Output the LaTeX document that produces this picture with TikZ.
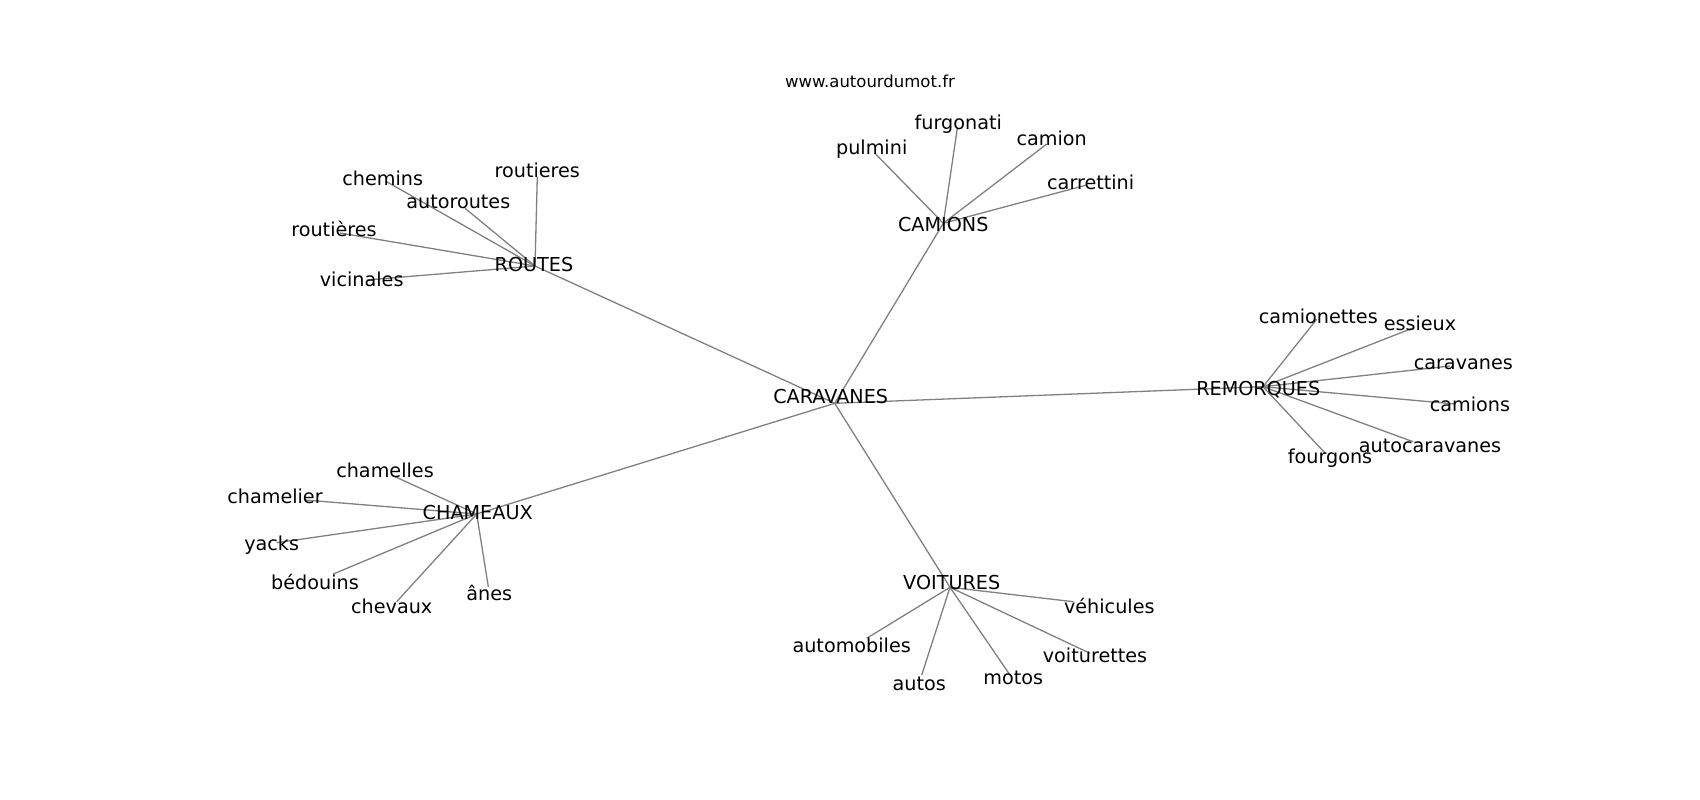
\documentclass[tikz,border=0pt]{standalone}
\usepackage{fontspec}
\setmainfont{DejaVu Sans}
\begin{document}
\begin{tikzpicture}[x=1pt,y=-1pt,
  lbl/.style={inner sep=0pt, anchor=base, font=\fontsize{19.2}{21}\selectfont, text=black, yshift=-6.3pt},
  web/.style={inner sep=0pt, anchor=base, font=\fontsize{16.5}{18}\selectfont, text=black, yshift=-5.2pt},
  edge/.style={draw=gray, line width=1.3pt}]
\useasboundingbox (0,0) rectangle (1700,800);
% line end points
\coordinate (pCARAVANES) at (834.7,403.3);
\coordinate (pROUTES) at (535,266);
\coordinate (pCAMIONS) at (943.3,223.3);
\coordinate (pREMORQUES) at (1263,386.7);
\coordinate (pCHAMEAUX) at (476.7,514);
\coordinate (pVOITURES) at (950,587.3);
\coordinate (pchemins) at (386.7,181.7);
\coordinate (pautoroutes) at (465,208.3);
\coordinate (proutieres) at (537.3,176.7);
\coordinate (proutieresg) at (340,233);
\coordinate (pvicinales) at (366.7,280);
\coordinate (pfurgonati) at (957.3,128.3);
\coordinate (ppulmini) at (875,153.3);
\coordinate (pcamion) at (1046.7,144);
\coordinate (pcarrettini) at (1086.7,185);
\coordinate (pcamionettes) at (1316.7,319.3);
\coordinate (pessieux) at (1413,328);
\coordinate (pcaravanes) at (1450,366);
\coordinate (pcamions) at (1455,404);
\coordinate (pautocaravanes) at (1413,441.7);
\coordinate (pfourgons) at (1325,453);
\coordinate (pchamelles) at (395,476.7);
\coordinate (pchamelier) at (305,500);
\coordinate (pyacks) at (276.7,542.7);
\coordinate (pbedouins) at (333.3,574);
\coordinate (pchevaux) at (396.7,601.7);
\coordinate (panes) at (488.3,586.7);
\coordinate (pvehicules) at (1073.3,601.7);
\coordinate (pautomobiles) at (866.7,638.3);
\coordinate (pautos) at (921.7,675);
\coordinate (pmotos) at (1010,675);
\coordinate (pvoiturettes) at (1090,653.3);
% edges
\foreach \a/\b in {CARAVANES/ROUTES, CARAVANES/CAMIONS, CARAVANES/REMORQUES, CARAVANES/CHAMEAUX, CARAVANES/VOITURES,
  ROUTES/chemins, ROUTES/autoroutes, ROUTES/routieres, ROUTES/routieresg, ROUTES/vicinales,
  CAMIONS/furgonati, CAMIONS/pulmini, CAMIONS/camion, CAMIONS/carrettini,
  REMORQUES/camionettes, REMORQUES/essieux, REMORQUES/caravanes, REMORQUES/camions, REMORQUES/autocaravanes, REMORQUES/fourgons,
  CHAMEAUX/chamelles, CHAMEAUX/chamelier, CHAMEAUX/yacks, CHAMEAUX/bedouins, CHAMEAUX/chevaux, CHAMEAUX/anes,
  VOITURES/vehicules, VOITURES/automobiles, VOITURES/autos, VOITURES/motos, VOITURES/voiturettes}
  \draw[edge] (p\a) -- (p\b);
% labels
\node[web] (www) at (870,82.7) {www.autourdumot.fr};
\node[lbl] (CARAVANES) at (830.7,397.3) {CARAVANES};
\node[lbl] (ROUTES) at (534,265) {ROUTES};
\node[lbl] (chemins) at (382.7,179.3) {chemins};
\node[lbl] (autoroutes) at (458.3,201.7) {autoroutes};
\node[lbl] (routieres) at (537.3,170.7) {routieres};
\node[lbl] (routieresg) at (334,230) {routières};
\node[lbl] (vicinales) at (361.7,280) {vicinales};
\node[lbl] (CAMIONS) at (943.3,225) {CAMIONS};
\node[lbl] (furgonati) at (958.3,122.7) {furgonati};
\node[lbl] (pulmini) at (871.7,148.3) {pulmini};
\node[lbl] (camion) at (1051.7,139) {camion};
\node[lbl] (carrettini) at (1090.7,183.3) {carrettini};
\node[lbl] (REMORQUES) at (1258.3,389.3) {REMORQUES};
\node[lbl] (camionettes) at (1318.3,316.7) {camionettes};
\node[lbl] (essieux) at (1420,324) {essieux};
\node[lbl] (caravanes) at (1463.3,362.7) {caravanes};
\node[lbl] (camions) at (1470,405) {camions};
\node[lbl] (autocaravanes) at (1430,446) {autocaravanes};
\node[lbl] (fourgons) at (1330,456.7) {fourgons};
\node[lbl] (CHAMEAUX) at (477.7,513.3) {CHAMEAUX};
\node[lbl] (chamelles) at (385,470.7) {chamelles};
\node[lbl] (chamelier) at (275,496.7) {chamelier};
\node[lbl] (yacks) at (271.7,544) {yacks};
\node[lbl] (bedouins) at (315,582.7) {bédouins};
\node[lbl] (chevaux) at (391.7,606.7) {chevaux};
\node[lbl] (anes) at (489.3,594) {ânes};
\node[lbl] (VOITURES) at (951.7,582.7) {VOITURES};
\node[lbl] (vehicules) at (1109.3,606.7) {véhicules};
\node[lbl] (automobiles) at (851.7,646) {automobiles};
\node[lbl] (autos) at (919.3,684) {autos};
\node[lbl] (motos) at (1013.3,678.3) {motos};
\node[lbl] (voiturettes) at (1095,656) {voiturettes};
\end{tikzpicture}
\end{document}
